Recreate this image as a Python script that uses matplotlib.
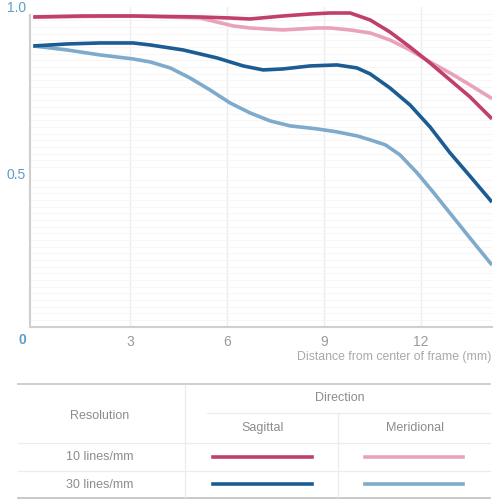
import numpy as np
import matplotlib
matplotlib.use("Agg")
import matplotlib.pyplot as plt
from matplotlib.ticker import MultipleLocator

plt.rcParams['font.family'] = ['Liberation Sans Narrow', 'Liberation Sans', 'DejaVu Sans']

# ---- data ----
x_sag10 = [0, 1.55, 3.09, 5.16, 6.09, 6.71, 7.73, 8.57, 9.19, 9.81, 10.43, 11.04, 11.66, 12.28, 12.90, 13.52, 14.2]
y_sag10 = [0.970, 0.973, 0.973, 0.970, 0.967, 0.964, 0.973, 0.979, 0.982, 0.982, 0.961, 0.925, 0.880, 0.832, 0.781, 0.730, 0.664]

x_mer10 = [0, 3.09, 5.16, 5.68, 6.2, 6.71, 7.73, 8.78, 9.19, 9.81, 10.43, 11.04, 11.66, 12.28, 12.90, 13.52, 14.2]
y_mer10 = [0.970, 0.973, 0.967, 0.955, 0.943, 0.937, 0.931, 0.937, 0.937, 0.931, 0.922, 0.901, 0.871, 0.835, 0.802, 0.766, 0.725]

x_sag30 = [0, 1.05, 2.07, 3.09, 3.62, 4.64, 5.69, 6.5, 7.12, 7.73, 8.57, 9.4, 10.02, 10.43, 11.04, 11.66, 12.28, 12.90, 13.52, 14.2]
y_sag30 = [0.883, 0.889, 0.892, 0.892, 0.886, 0.871, 0.847, 0.823, 0.811, 0.814, 0.823, 0.826, 0.817, 0.799, 0.757, 0.706, 0.640, 0.562, 0.492, 0.414]

x_mer30 = [0, 1.05, 2.07, 3.09, 3.62, 4.24, 4.85, 5.47, 6.09, 6.71, 7.33, 7.95, 8.78, 9.4, 10.02, 10.43, 10.9, 11.35, 11.88, 12.38, 12.9, 13.52, 14.2]
y_mer30 = [0.883, 0.871, 0.856, 0.844, 0.835, 0.817, 0.787, 0.751, 0.712, 0.682, 0.658, 0.643, 0.634, 0.625, 0.613, 0.601, 0.586, 0.556, 0.502, 0.444, 0.381, 0.306, 0.225]

x_ticks = [3, 6, 9, 12]
y_ticks = [0.5, 1.0]
y_ticklabels = ['0.5', '1.0']

c_sag10 = '#c0406a'
c_mer10 = '#e9a3b8'
c_sag30 = '#1b5c94'
c_mer30 = '#7eaacb'
grid_c = '#ececec'
spine_c = '#cfcfcf'
blue_lbl = '#5d9dc8'
gray_txt = '#9a9a9a'

fig = plt.figure(figsize=(5, 5), dpi=100)
ax = fig.add_axes([0.06, 0.346, 0.924, 0.64])

lw = 2.6
kw = dict(lw=lw, solid_capstyle='butt', solid_joinstyle='round')
ax.plot(x_mer10, y_mer10, color=c_mer10, zorder=3, **kw)
ax.plot(x_sag10, y_sag10, color=c_sag10, zorder=4, **kw)
ax.plot(x_mer30, y_mer30, color=c_mer30, zorder=3, **kw)
ax.plot(x_sag30, y_sag30, color=c_sag30, zorder=4, **kw)

ax.set_xlim(-0.1, 14.2)
ax.set_ylim(0.039, 1.0)
ax.set_xticks(x_ticks)
ax.set_xticklabels([str(t) for t in x_ticks])
ax.set_yticks(y_ticks)
ax.set_yticklabels(y_ticklabels)
ax.yaxis.set_minor_locator(MultipleLocator(0.02))
ax.tick_params(axis='x', length=0, pad=6, labelsize=10, labelcolor=gray_txt)
ax.tick_params(axis='y', which='both', length=0, pad=3, labelsize=10, labelcolor=blue_lbl)

ax.grid(axis='x', color=grid_c, lw=1.0, zorder=0)
ax.grid(axis='y', which='minor', color='#f5f5f5', lw=0.6, zorder=0)
ax.set_axisbelow(True)

for s in ['top', 'right']:
    ax.spines[s].set_visible(False)
for s in ['left', 'bottom']:
    ax.spines[s].set_color(spine_c)
    ax.spines[s].set_linewidth(1.5)
ax.spines['left'].set_bounds(0.039, 0.975)

fig.text(22 / 500, 1 - 340 / 500, '0', ha='center', va='center', fontsize=10,
         color=blue_lbl, fontweight='bold')
fig.text(491 / 500, 1 - 357 / 500, 'Distance from center of frame (mm)', ha='right',
         va='center', fontsize=8.8, color='#a8a8a8')

# ---- legend table (pixel coordinates) ----
tax = fig.add_axes([0, 0, 1, 0.26])
tax.set_xlim(0, 500)
tax.set_ylim(500, 370)
tax.axis('off')

tax.plot([18, 490], [384, 384], color='#cccccc', lw=1.3)
tax.plot([18, 490], [497.5, 497.5], color='#c4c4c4', lw=1.3)
tax.plot([18, 490], [443, 443], color='#ececec', lw=0.9)
tax.plot([18, 490], [471, 471], color='#ececec', lw=0.9)
tax.plot([207, 490], [413, 413], color='#ececec', lw=0.9)
tax.plot([185, 185], [385, 497], color='#ececec', lw=0.9)
tax.plot([338, 338], [413, 497], color='#ececec', lw=0.9)

tfs = 9
tcol = '#8c8c8c'
tax.text(100, 416, 'Resolution', ha='center', va='center', fontsize=tfs, color=tcol)
tax.text(340, 398, 'Direction', ha='center', va='center', fontsize=tfs, color=tcol)
tax.text(263, 428, 'Sagittal', ha='center', va='center', fontsize=tfs, color=tcol)
tax.text(415, 428, 'Meridional', ha='center', va='center', fontsize=tfs, color=tcol)
tax.text(100, 457, '10 lines/mm', ha='center', va='center', fontsize=tfs, color=tcol)
tax.text(100, 485, '30 lines/mm', ha='center', va='center', fontsize=tfs, color=tcol)

seg_lw = 2.6
tax.plot([213, 312], [457, 457], color=c_sag10, lw=seg_lw)
tax.plot([365, 463], [457, 457], color=c_mer10, lw=seg_lw)
tax.plot([213, 312], [484, 484], color=c_sag30, lw=seg_lw)
tax.plot([365, 463], [484, 484], color=c_mer30, lw=seg_lw)

fig.savefig('out.png', dpi=100)
